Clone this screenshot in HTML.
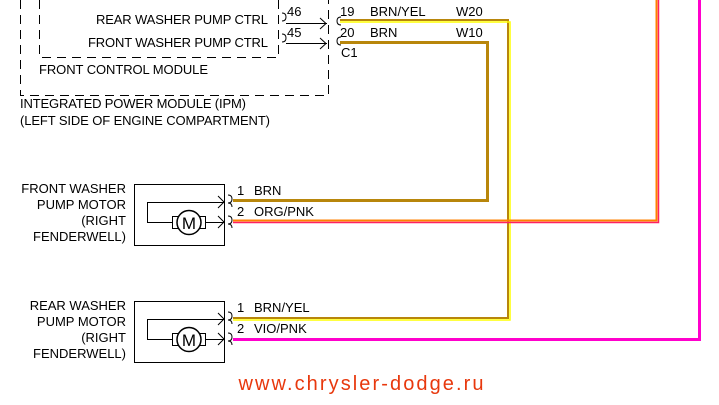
<!DOCTYPE html>
<html><head><style>
html,body{margin:0;padding:0;background:#fff;}
svg text{font-family:"Liberation Sans",sans-serif;font-size:13px;fill:#000;}
</style></head><body>
<svg width="719" height="400" xmlns="http://www.w3.org/2000/svg">
<g stroke="#000" stroke-width="1" fill="none" stroke-dasharray="9,6">
<path d="M20.5 0 V95.5 H328.5 V0"/>
<path d="M39.5 0 V57.5 H278.5 V0"/>
</g>
<text x="268" y="24" text-anchor="end" textLength="172">REAR WASHER PUMP CTRL</text>
<text x="268" y="47" text-anchor="end" textLength="180">FRONT WASHER PUMP CTRL</text>
<text x="39" y="74" textLength="169">FRONT CONTROL MODULE</text>
<text x="20" y="108" textLength="226">INTEGRATED POWER MODULE (IPM)</text>
<text x="20" y="125" textLength="250">(LEFT SIDE OF ENGINE COMPARTMENT)</text>
<text x="287" y="16">46</text>
<text x="287" y="37">45</text>
<text x="340" y="16">19</text>
<text x="340" y="37">20</text>
<text x="341" y="57">C1</text>
<text x="370" y="16">BRN/YEL</text>
<text x="370" y="37">BRN</text>
<text x="456" y="16">W20</text>
<text x="456" y="37">W10</text>
<g stroke="#000" fill="none" stroke-width="1">
<path d="M282 13 q4 0 4 4 q0 4 -4 4 M282 34 q4 0 4 4 q0 4 -4 4"/>
<path d="M286 23.5 H327 M320 18 l6 5.5 -6 5.5 M286 43.5 H327 M320 38 l6 5.5 -6 5.5"/>
<path d="M341 17 q-4 0 -4 4 q0 4 4 4 M341 37 q-4 0 -4 4 q0 4 4 4"/>
</g>
<g fill="none">
<path d="M340 20 H508 V318 H233" stroke="#b8860b" stroke-width="2"/>
<path d="M340 22 H510 V320 H233" stroke="#ffff00" stroke-width="1.5"/>
<path d="M340 42.5 H487.5 V200.5 H233" stroke="#b8860b" stroke-width="3"/>
<path d="M233 220.5 H656.5 V0" stroke="#ff8000" stroke-width="2"/>
<path d="M233 222.5 H658.5 V0" stroke="#ff2060" stroke-width="1.5"/>
<path d="M233 339.5 H699.5 V0" stroke="#ff00cc" stroke-width="3"/>
</g>
<text x="126" y="193" text-anchor="end">FRONT WASHER</text>
<text x="126" y="209" text-anchor="end">PUMP MOTOR</text>
<text x="126" y="225" text-anchor="end">(RIGHT</text>
<text x="126" y="241" text-anchor="end">FENDERWELL)</text>
<text x="237" y="195">1</text><text x="254" y="195">BRN</text>
<text x="237" y="216">2</text><text x="254" y="216">ORG/PNK</text>
<text x="237" y="312">1</text><text x="254" y="312">BRN/YEL</text>
<text x="237" y="333">2</text><text x="254" y="333">VIO/PNK</text>
<text x="126" y="310" text-anchor="end">REAR WASHER</text>
<text x="126" y="326" text-anchor="end">PUMP MOTOR</text>
<text x="126" y="342" text-anchor="end">(RIGHT</text>
<text x="126" y="358" text-anchor="end">FENDERWELL)</text>
<g stroke="#000" fill="none" stroke-width="1">
<g id="m">
<rect x="134.5" y="184.5" width="90" height="61"/>
<path d="M225 202.5 H147.5 V222.5 H172 M205 222.5 H225"/>
<path d="M218 196 l6 6 -6 6 M218 216 l6 6 -6 6"/>
<rect x="172.5" y="216.5" width="33" height="12"/>
<circle cx="189" cy="222.5" r="12" fill="#fff" stroke-width="1.5"/>
<path d="M228 195 q4 0 4 4 q0 4 -4 4 q4 0 4 4 M228 216 q4 0 4 4 q0 4 -4 4 q4 0 4 4"/>
</g>
<use href="#m" y="117"/>
</g>
<text x="189" y="229" text-anchor="middle" style="font-size:17px">M</text>
<text x="189" y="346" text-anchor="middle" style="font-size:17px">M</text>
<text x="361" y="390" text-anchor="middle" textLength="245" style="font-size:20px;fill:#e8380d">www.chrysler-dodge.ru</text>
</svg>
</body></html>
